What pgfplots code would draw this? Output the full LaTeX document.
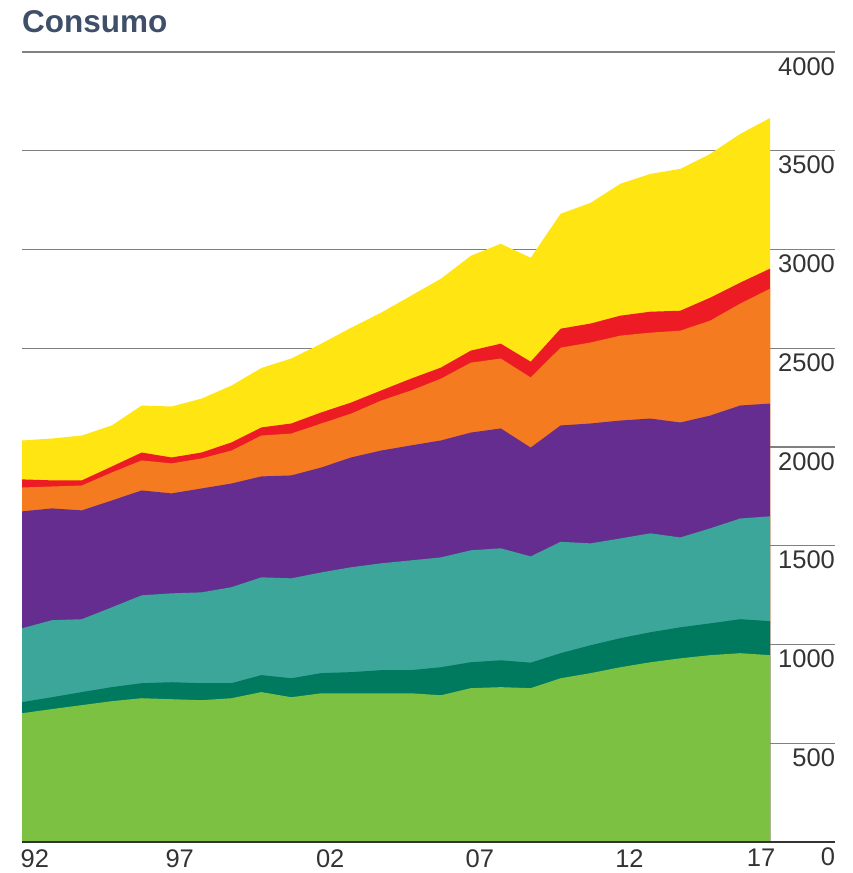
\documentclass[border=0pt]{standalone}
\usepackage{pgfplots}
\usepackage{pgfplotstable}
\usepackage{fontspec}
\setmainfont{Liberation Sans}
\pgfplotsset{compat=1.18}
\definecolor{cgreen}{HTML}{7CC142}
\definecolor{cdkgreen}{HTML}{007A5E}
\definecolor{cteal}{HTML}{3CA69A}
\definecolor{cpurple}{HTML}{662D91}
\definecolor{corange}{HTML}{F47B20}
\definecolor{cred}{HTML}{ED1C24}
\definecolor{cyellow}{HTML}{FFE512}
\definecolor{ctitle}{HTML}{3F4F69}
\definecolor{clabel}{HTML}{333333}
\pgfplotstableread{
year green dk teal purple orange red total
1992 652 708 1082 1674 1795 1836 2033
1993 673 733 1123 1689 1800 1831 2043
1994 693 759 1128 1679 1805 1831 2058
1995 713 784 1188 1729 1871 1901 2109
1996 728 804 1249 1780 1932 1972 2210
1997 723 809 1259 1765 1917 1947 2205
1998 718 804 1264 1790 1942 1972 2245
1999 728 804 1290 1815 1982 2023 2311
2000 759 845 1340 1851 2058 2099 2400
2001 733 829 1335 1856 2068 2119 2448
2002 753 855 1365 1896 2119 2175 2523
2003 753 860 1391 1947 2169 2225 2604
2004 753 870 1411 1982 2235 2286 2680
2005 753 870 1426 2008 2286 2346 2766
2006 743 885 1441 2033 2346 2402 2852
2007 779 910 1477 2073 2427 2488 2968
2008 784 920 1487 2094 2448 2523 3029
2009 779 908 1446 1997 2352 2432 2958
2010 829 956 1520 2109 2503 2599 3181
2011 855 996 1512 2119 2529 2625 3236
2012 885 1032 1537 2134 2564 2665 3333
2013 910 1062 1563 2144 2579 2685 3383
2014 930 1087 1542 2124 2589 2690 3408
2015 946 1107 1588 2159 2640 2756 3484
2016 956 1128 1638 2210 2726 2832 3585
2017 946 1118 1649 2220 2802 2903 3666
}\data
\begin{document}
\begin{tikzpicture}[x=1pt,y=1pt]
\path[use as bounding box] (-22,-31) rectangle (830,842);
\begin{axis}[
  at={(0,0)}, anchor=south west,
  scale only axis, width=813pt, height=790pt,
  xmin=1992, xmax=2019.17, ymin=0, ymax=4000,
  enlargelimits=false,
  axis x line=bottom, axis y line=right,
  x axis line style={-, draw=clabel, line width=1.5pt},
  y axis line style={draw=none},
  xtick={1992.43,1997.27,2002.3,2007.3,2012.3,2016.7},
  xticklabels={92,97,02,07,12,17},
  ytick={0,500,...,4000},
  tick style={draw=none},
  ymajorgrids, grid style={draw=black!50, line width=1.2pt},
  tick label style={font=\fontsize{25.5}{30}\selectfont, text=clabel},
  /pgf/number format/assume math mode=true,
  /pgf/number format/set thousands separator={},
  yticklabel style={anchor=north east, inner sep=0pt, xshift=-2pt, yshift=-5pt},
  xticklabel style={anchor=north, inner sep=0pt, yshift=-5pt},
  clip=false,
]
\addplot[fill=cyellow, draw=none] table[x=year, y=total] {\data} \closedcycle;
\addplot[fill=cred, draw=none] table[x=year, y=red] {\data} \closedcycle;
\addplot[fill=corange, draw=none] table[x=year, y=orange] {\data} \closedcycle;
\addplot[fill=cpurple, draw=none] table[x=year, y=purple] {\data} \closedcycle;
\addplot[fill=cteal, draw=none] table[x=year, y=teal] {\data} \closedcycle;
\addplot[fill=cdkgreen, draw=none] table[x=year, y=dk] {\data} \closedcycle;
\addplot[fill=cgreen, draw=none] table[x=year, y=green] {\data} \closedcycle;
\draw[clabel, line width=1.5pt] (rel axis cs:0,0) -- (rel axis cs:1,0);
\end{axis}
\node[anchor=base west, inner sep=0pt, text=ctitle, font=\fontsize{31.5}{36}\selectfont\bfseries] at (0,809) {Consumo};
\end{tikzpicture}
\end{document}
